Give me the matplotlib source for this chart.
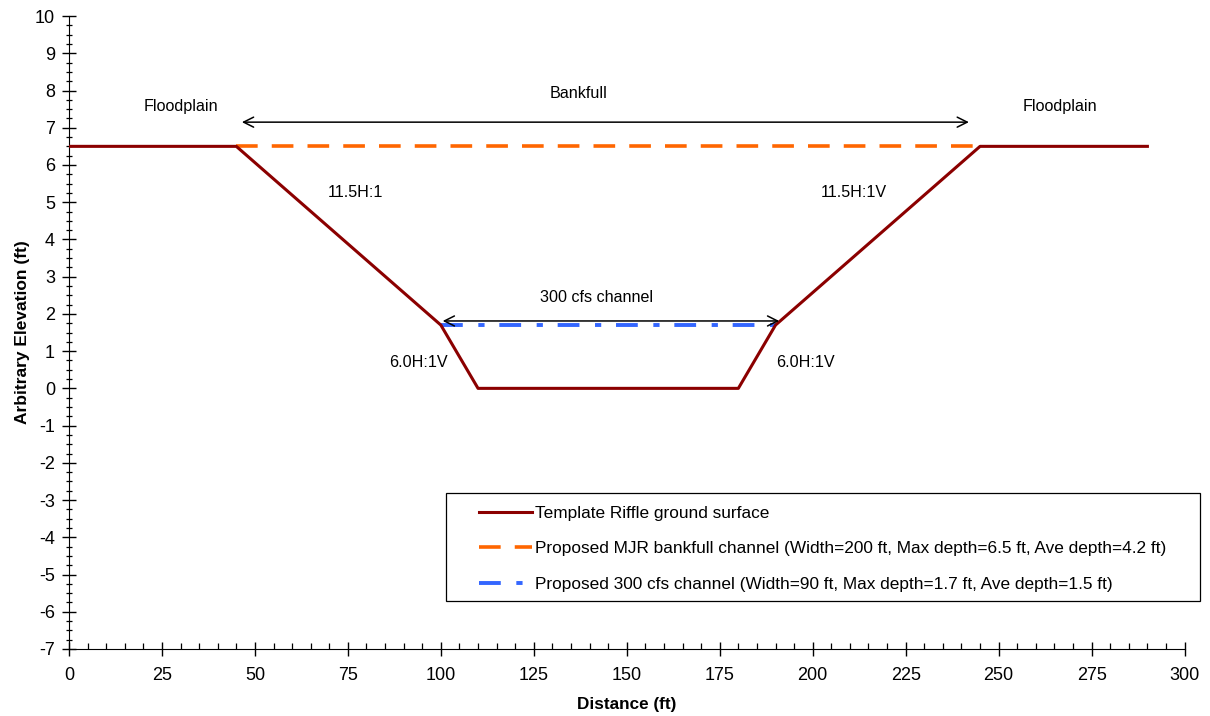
import matplotlib
matplotlib.use("Agg")
import matplotlib.pyplot as plt
from matplotlib.ticker import MultipleLocator
from matplotlib.patches import Rectangle

plt.rcParams['font.family'] = ['Liberation Sans', 'DejaVu Sans']
plt.rcParams['axes.unicode_minus'] = False

# Template riffle cross-section
ground_x = [0, 45, 100, 110, 180, 190, 245, 290]
ground_y = [6.5, 6.5, 1.7, 0, 0, 1.7, 6.5, 6.5]

# Proposed bankfull channel water surface
bankfull_x = [45, 245]
bankfull_y = [6.5, 6.5]

# Proposed 300 cfs channel water surface
cfs_x = [100, 190]
cfs_y = [1.7, 1.7]

labels = [
    "Template Riffle ground surface",
    "Proposed MJR bankfull channel (Width=200 ft, Max depth=6.5 ft, Ave depth=4.2 ft)",
    "Proposed 300 cfs channel (Width=90 ft, Max depth=1.7 ft, Ave depth=1.5 ft)",
]

fig = plt.figure(figsize=(12.1, 7.16), dpi=100)
ax = fig.add_axes([0.057, 0.0936, 0.922, 0.884])

ax.plot(ground_x, ground_y, color="#8B0000", lw=2.2, label=labels[0], zorder=3)
ax.plot(bankfull_x, bankfull_y, color="#FF6600", lw=2.6,
        linestyle=(0, (6.0, 3.9)), label=labels[1], zorder=2)
ax.plot(cfs_x, cfs_y, color="#3366FF", lw=2.8,
        linestyle=(0, (5.6, 4.0, 1.6, 3.8)), label=labels[2], zorder=2)

ax.set_xlim(0, 300)
ax.set_ylim(-7, 10)
ax.xaxis.set_major_locator(MultipleLocator(25))
ax.xaxis.set_minor_locator(MultipleLocator(5))
ax.yaxis.set_major_locator(MultipleLocator(1))
ax.yaxis.set_minor_locator(MultipleLocator(0.25))
ax.tick_params(which="major", direction="inout", length=10, width=1, labelsize=13)
ax.tick_params(axis="x", which="major", pad=8)
ax.tick_params(axis="y", which="major", pad=5)
ax.tick_params(axis="x", which="minor", direction="in", length=4, width=0.9)
ax.tick_params(axis="y", which="minor", direction="inout", length=5, width=0.9)
ax.spines["top"].set_visible(False)
ax.spines["right"].set_visible(False)

ax.set_xlabel("Distance (ft)", fontsize=12.3, fontweight="bold", labelpad=9)
ax.set_ylabel("Arbitrary Elevation (ft)", fontsize=12.5, fontweight="bold", labelpad=3.7)

# Dimension arrows
arrow = dict(arrowstyle="<->", color="black", lw=1.1, mutation_scale=18, shrinkA=0, shrinkB=0)
ax.annotate("", xy=(46.5, 7.15), xytext=(242, 7.15), arrowprops=arrow)
ax.annotate("", xy=(100.5, 1.81), xytext=(191, 1.81), arrowprops=arrow)

txt = dict(fontsize=11.6, ha="center", va="center")
ax.text(137, 7.93, "Bankfull", **txt)
ax.text(142, 2.45, "300 cfs channel", **txt)
ax.text(30, 7.56, "Floodplain", **txt)
ax.text(266.5, 7.56, "Floodplain", **txt)
ax.text(77, 5.25, "11.5H:1", **txt)
ax.text(211, 5.25, "11.5H:1V", **txt)
ax.text(94, 0.7, "6.0H:1V", **txt)
ax.text(198, 0.7, "6.0H:1V", **txt)

# Legend frame drawn separately so the padding can differ per side
ax.add_patch(Rectangle((0.3378, 0.0758), 0.6756, 0.1706, transform=ax.transAxes,
                       fill=True, facecolor="white", edgecolor="black", lw=0.9,
                       clip_on=False, zorder=4))
leg = ax.legend(loc="upper left", bbox_to_anchor=(0.3674, 0.2258),
                fontsize=12.4, frameon=False, handlelength=3.1, handletextpad=0.17,
                labelspacing=1.17, borderpad=0, borderaxespad=0)
leg.set_zorder(5)

fig.savefig("out.png", dpi=100)
